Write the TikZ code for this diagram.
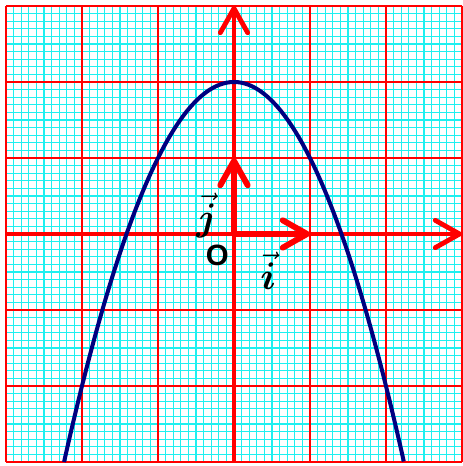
\documentclass[tikz,border=0pt]{standalone}
\usepackage{amsmath,amssymb}
\usepackage{bm}
\usepackage{fontspec}
\setsansfont{Liberation Sans}
\usepackage{xcolor}
\usepackage{tikz}
\usetikzlibrary{arrows.meta}
\definecolor{navy1}{RGB}{0,0,128}
\definecolor{cyan1}{RGB}{30,240,240}
\definecolor{red1}{RGB}{255,0,0}

\tikzset{
    finegrid/.style={cyan1, line width=0.45pt},
    coarsegrid/.style={red1, line width=0.6pt},
    axisline/.style={red1, line width=1.8pt, -{Straight Barb[length=3.2mm, width=3.6mm, round]}},
    unitvec/.style={red1, line width=2.2pt, -{Straight Barb[length=3.2mm, width=3.6mm, round]}},
    veclabel/.style={font=\Large},
}

\begin{document}
\begin{tikzpicture}[scale=1.0]
    \useasboundingbox (-3.079,-3.053) rectangle (3.013,3.079);
    % Graph paper
    \draw[finegrid] (-3,-3) grid[step=0.1] (3,3);
    \draw[coarsegrid] (-3,-3) grid[step=1] (3,3);
    % Axes
    \coordinate (O) at (0,0);
    \coordinate (xmin) at (-3,0);
    \coordinate (xmax) at (3,0);
    \coordinate (ymin) at (0,-3);
    \coordinate (ymax) at (0,3);
    \coordinate (I) at (1,0);
    \coordinate (J) at (0,1);
    \draw[axisline] (xmin) -- (xmax);
    \draw[axisline] (ymin) -- (ymax);
    % Unit vectors
    \draw[unitvec] (O) -- (I);
    \draw[unitvec] (O) -- (J);
    % Parabola
    \draw[navy1, line width=1.5pt, domain=-2.2361:2.2361, samples=120, smooth]
        plot (\x, {2-\x*\x});
    % Labels
    \node[font=\sffamily\bfseries\fontsize{11}{13}\selectfont] (Olab) at (-0.22,-0.28) {O};
    \node[veclabel] (ilab) at (0.45,-0.49) {$\vec{\bm{i}}$};
    \node[veclabel] (jlab) at (-0.36,0.24) {$\vec{\bm{j}}$};
\end{tikzpicture}
\end{document}
